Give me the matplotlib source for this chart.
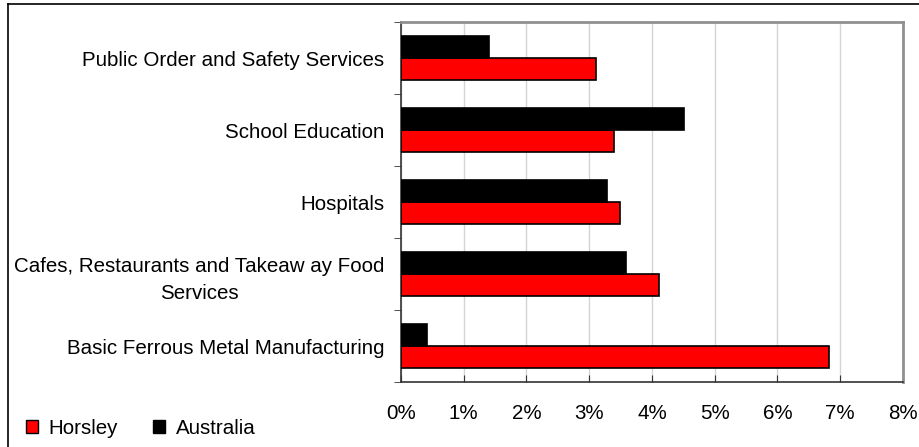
import matplotlib.pyplot as plt
from matplotlib.patches import Patch
from matplotlib.lines import Line2D
import numpy as np

plt.rcParams['font.family'] = ['Liberation Sans', 'DejaVu Sans']

categories = ["Basic Ferrous Metal Manufacturing",
              "Cafes, Restaurants and Takeaw ay Food\nServices",
              "Hospitals",
              "School Education",
              "Public Order and Safety Services"]
horsley = [6.82, 4.11, 3.49, 3.40, 3.10]
australia = [0.41, 3.59, 3.29, 4.51, 1.41]
xticks = [0, 1, 2, 3, 4, 5, 6, 7, 8]

fs = 14.8
fig = plt.figure(figsize=(9.2, 4.47), dpi=100)
ax = fig.add_axes([401/920, 1 - 382/447, 502/920, 360/447])

y = np.arange(len(categories))
h = 0.3
ax.barh(y - h/2, horsley, height=h, color='#ff0000', edgecolor='black', linewidth=1.2, zorder=3)
ax.barh(y + h/2, australia, height=h, color='black', edgecolor='black', linewidth=1.2, zorder=3)

ax.set_xlim(0, 8)
ax.set_ylim(-0.5, len(categories) - 0.5)
ax.set_xticks(xticks)
ax.set_xticklabels([f"{v}%" for v in xticks], fontsize=fs)
ax.tick_params(axis='x', direction='in', length=5, pad=16, color='#333333')
ax.set_yticks(y)
ax.set_yticklabels(categories, fontsize=fs, ha='right', multialignment='center',
                   linespacing=1.5)
ax.tick_params(axis='y', length=0, pad=12)
ax.set_yticks(np.arange(len(categories) + 1) - 0.5, minor=True)
ax.tick_params(axis='y', which='minor', length=5, direction='out', color='#333333')
ax.grid(axis='x', color='#d4d4d4', linewidth=1, zorder=0)

for s in ['left', 'bottom']:
    ax.spines[s].set_color('#333333')
    ax.spines[s].set_linewidth(1.2)
for s in ['top', 'right']:
    ax.spines[s].set_color('#909090')
    ax.spines[s].set_linewidth(2)

handles = [Patch(facecolor='#ff0000', edgecolor='black', label='Horsley'),
           Patch(facecolor='black', edgecolor='black', label='Australia')]
fig.legend(handles=handles, loc='center left', bbox_to_anchor=(26/920, 1 - 428/447),
           ncol=2, frameon=False, fontsize=fs, handlelength=0.6, handleheight=0.6,
           handletextpad=0.5, columnspacing=1.7, borderaxespad=0, borderpad=0)

fig.add_artist(Line2D([8/920, 8/920], [0, 1 - 4/447], color='black', linewidth=1.2))
fig.add_artist(Line2D([8/920, 1], [1 - 4/447, 1 - 4/447], color='black', linewidth=1.2))

fig.savefig('out.png', dpi=100)
